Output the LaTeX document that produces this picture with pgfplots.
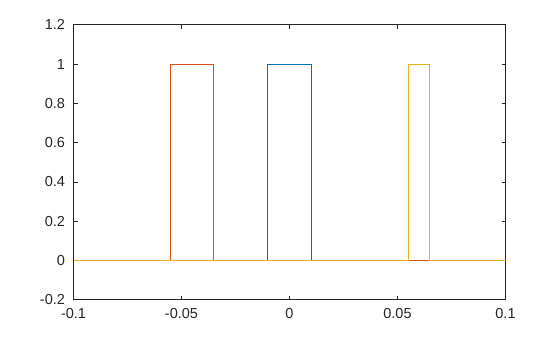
\documentclass[border=0pt]{standalone}
\usepackage{fontspec}
\setmainfont{Liberation Sans}
\usepackage{pgfplots}
\pgfplotsset{compat=1.18}
\definecolor{mblue}{RGB}{0,114,189}
\definecolor{morange}{RGB}{217,83,25}
\definecolor{myellow}{RGB}{237,177,32}
\definecolor{axgray}{RGB}{38,38,38}
\begin{document}
\begin{tikzpicture}[x=1pt,y=1pt]
\useasboundingbox (0,0) rectangle (560,337);
\begin{axis}[
  at={(73.5pt,37.2pt)}, anchor=south west,
  scale only axis, width=432pt, height=275pt,
  xmin=-0.1, xmax=0.1, ymin=-0.2, ymax=1.2,
  xtick={-0.1,-0.05,0,0.05,0.1},
  xticklabels={-0.1,-0.05,0,0.05,0.1},
  ytick={-0.2,0,0.2,0.4,0.6,0.8,1,1.2},
  yticklabels={-0.2,0,0.2,0.4,0.6,0.8,1,1.2},
  tick align=inside,
  major tick length=4pt,
  axis line style={axgray, line width=0.7pt},
  tick style={axgray, line width=0.7pt},
  xticklabel style={font=\fontsize{14.5}{17}\selectfont, text=axgray, yshift=-5pt},
  yticklabel style={font=\fontsize{14.5}{17}\selectfont, text=axgray, xshift=-5pt},
  clip=true,
]
\addplot[mblue, line width=1.1pt] coordinates {(-0.1,0) (-0.01,0) (-0.01,1) (0.01,1) (0.01,0) (0.1,0)};
\addplot[morange, line width=1.1pt] coordinates {(-0.1,0) (-0.055,0) (-0.055,1) (-0.035,1) (-0.035,0) (0.1,0)};
\addplot[myellow, line width=1.1pt] coordinates {(-0.1,0) (0.055,0) (0.055,1) (0.065,1) (0.065,0) (0.1,0)};
\end{axis}
\end{tikzpicture}
\end{document}
